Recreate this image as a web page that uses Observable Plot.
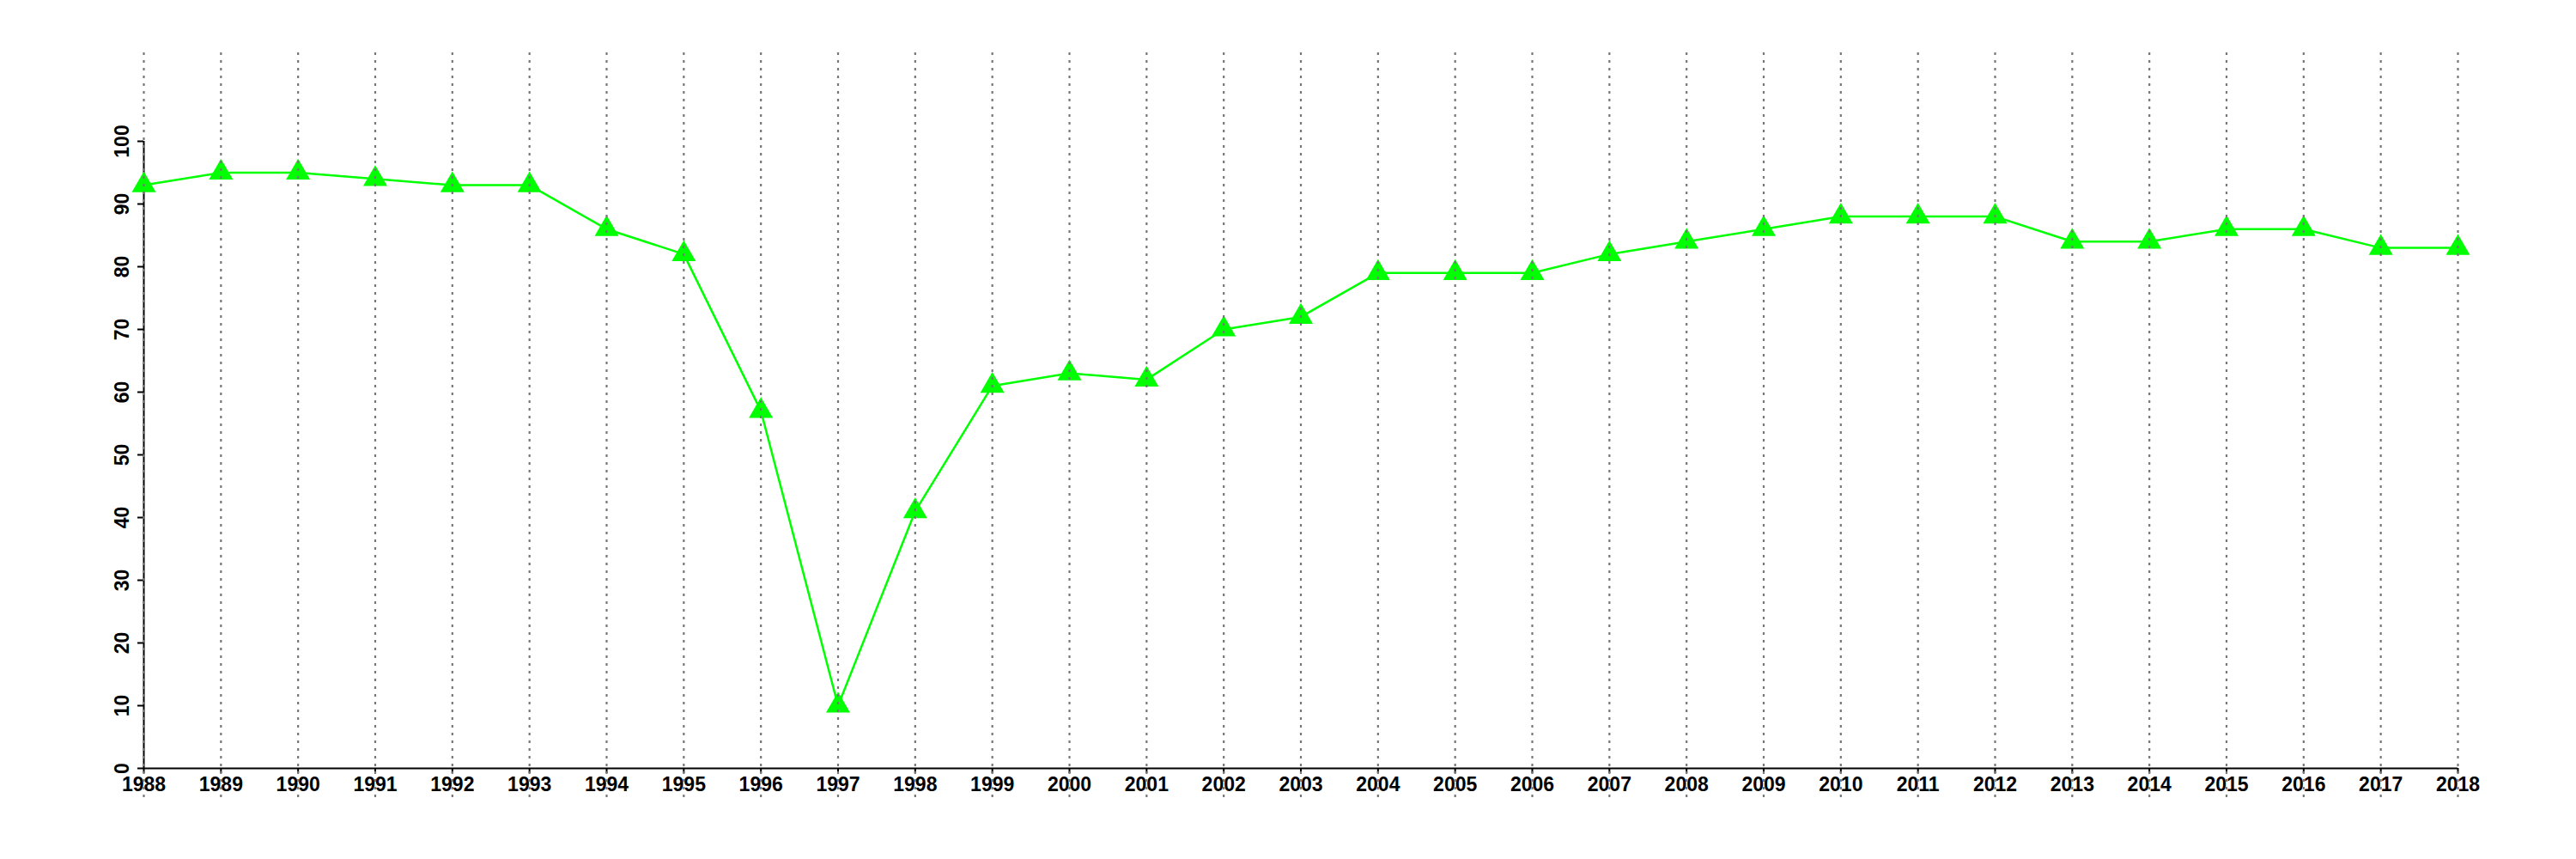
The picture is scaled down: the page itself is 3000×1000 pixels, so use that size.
<!DOCTYPE html>
<html>
<head>
<meta charset="utf-8">
<script src="https://cdn.jsdelivr.net/npm/d3@7"></script>
<script src="https://cdn.jsdelivr.net/npm/@observablehq/plot@0.6"></script>
<style>
  html, body { margin: 0; padding: 0; background: #fff; }
  #chart svg { display: block; }
</style>
</head>
<body>
<div id="chart"></div>
<script>
const years = [1988, 1989, 1990, 1991, 1992, 1993, 1994, 1995, 1996, 1997, 1998,
  1999, 2000, 2001, 2002, 2003, 2004, 2005, 2006, 2007, 2008, 2009, 2010,
  2011, 2012, 2013, 2014, 2015, 2016, 2017, 2018];
const values = [93, 95, 95, 94, 93, 93, 86, 82, 57, 10, 41,
  61, 63, 62, 70, 72, 79, 79, 79, 82, 84, 86, 88,
  88, 88, 84, 84, 86, 86, 83, 83];
const yTicks = [0, 10, 20, 30, 40, 50, 60, 70, 80, 90, 100];

const data = years.map((year, i) => ({year, value: values[i]}));

const green = "#00ff00";
const font = "Liberation Sans, Arial, Helvetica, sans-serif";

const chart = Plot.plot({
  width: 3000,
  height: 1000,
  marginLeft: 167,
  marginRight: 138,
  marginTop: 164,
  marginBottom: 106,
  style: {fontFamily: font, fontWeight: "bold", fontSize: "23px", background: "#fff", color: "#000"},
  x: {type: "linear", domain: [years[0], years[years.length - 1]], axis: null},
  y: {type: "linear", domain: [0, 100], axis: null},
  marks: [
    Plot.ruleX([years[0]], {y1: 0, y2: 100, stroke: "#000", strokeWidth: 2}),
    Plot.ruleY([0], {x1: years[0], x2: years[years.length - 1], stroke: "#000", strokeWidth: 2}),
    Plot.axisY({ticks: yTicks, tickFormat: () => "", tickSize: 7, strokeWidth: 2, label: null}),
    Plot.axisX({ticks: years, tickFormat: d => String(d), tickSize: 6, tickPadding: 4, strokeWidth: 2, fontSize: 23, fontWeight: "bold", label: null}),
    Plot.text(yTicks, {x: years[0], y: d => d, text: d => String(d), rotate: -90, dx: -25, textAnchor: "middle", lineAnchor: "middle", fontSize: 23, fontWeight: "bold", fill: "#000"}),
    Plot.line(data, {x: "year", y: "value", stroke: green, strokeWidth: 2.5}),
    Plot.dot(data, {x: "year", y: "value", symbol: "triangle", r: 10.4, fill: green, stroke: "none"}),
    Plot.ruleX(years, {y1: -4.66, y2: 114.25, stroke: "#777", strokeWidth: 2.2, strokeDasharray: "3,6"})
  ]
});

document.getElementById("chart").appendChild(chart);
</script>
</body>
</html>
